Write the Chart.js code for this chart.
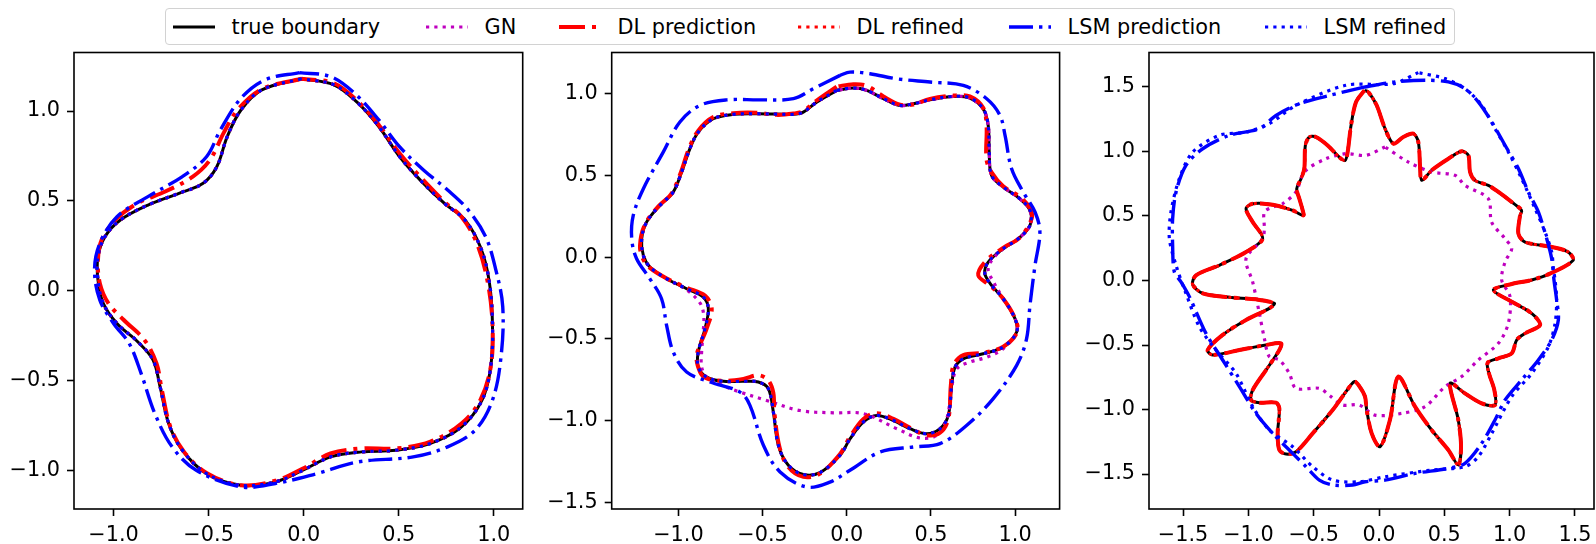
<!DOCTYPE html>
<html>
<head>
<meta charset="utf-8">
<script src="https://cdn.jsdelivr.net/npm/chart.js@4.4.1/dist/chart.umd.min.js"></script>
<style>
  html, body { margin: 0; padding: 0; background: #fff; overflow: hidden; }
  body { width: 1596px; height: 544px; position: relative; font-family: "DejaVu Sans", sans-serif; }
  canvas { position: absolute; top: 46px; }
  #legend { position: absolute; left: 165px; top: 8px; width: 1290px; height: 37px; box-sizing: border-box;
            border: 1.5px solid #d2d2d2; border-radius: 4px; background: #fff; }
  .item { position: absolute; top: 8px; height: 37px; display: flex; align-items: center;
          font-size: 20.8px; color: #000; white-space: nowrap; }
  .item svg { margin-right: 16.6px; }
</style>
</head>
<body>
<div id="legend"></div>
<canvas id="c1" width="530" height="498" style="left:0px"></canvas>
<canvas id="c2" width="537" height="498" style="left:530px"></canvas>
<canvas id="c3" width="529" height="498" style="left:1067px"></canvas>
<script>
// tick values
const ticks1 = [-1.0, -0.5, 0.0, 0.5, 1.0];
const ticks2y = [-1.5, -1.0, -0.5, 0.0, 0.5, 1.0];
const ticks3 = [-1.5, -1.0, -0.5, 0.0, 0.5, 1.0, 1.5];

const legendLabels = ["true boundary", "GN", "DL prediction", "DL refined", "LSM prediction", "LSM refined"];

// ---- panel 1 ----
const p1True = [[-0.013,1.18],[-0.22,1.118],[-0.33,1.006],[-0.402,0.858],[-0.457,0.69],[-0.529,0.598],[-0.656,0.542],[-0.819,0.477],[-0.964,0.394],[-1.045,0.301],[-1.082,0.19],[-1.082,0.06],[-1.054,-0.07],[-0.982,-0.182],[-0.873,-0.284],[-0.792,-0.386],[-0.755,-0.535],[-0.71,-0.739],[-0.638,-0.888],[-0.511,-1.018],[-0.33,-1.083],[-0.149,-1.064],[-0.004,-0.999],[0.141,-0.925],[0.304,-0.897],[0.486,-0.888],[0.667,-0.85],[0.83,-0.758],[0.938,-0.609],[0.984,-0.423],[0.993,-0.182],[0.975,0.059],[0.929,0.245],[0.848,0.394],[0.739,0.487],[0.612,0.617],[0.504,0.747],[0.395,0.914],[0.286,1.044],[0.159,1.146]];
const p1DlPred = [[-0.013,1.18],[-0.22,1.122],[-0.348,1.006],[-0.42,0.88],[-0.493,0.728],[-0.583,0.635],[-0.728,0.552],[-0.873,0.487],[-0.991,0.394],[-1.063,0.282],[-1.082,0.171],[-1.072,0.041],[-1.027,-0.07],[-0.946,-0.163],[-0.837,-0.275],[-0.774,-0.405],[-0.746,-0.553],[-0.701,-0.758],[-0.629,-0.897],[-0.511,-1.014],[-0.33,-1.083],[-0.149,-1.058],[-0.004,-0.99],[0.141,-0.906],[0.304,-0.878],[0.486,-0.878],[0.667,-0.84],[0.83,-0.739],[0.929,-0.609],[0.984,-0.423],[0.993,-0.182],[0.966,0.059],[0.911,0.264],[0.83,0.412],[0.739,0.496],[0.612,0.635],[0.504,0.765],[0.395,0.923],[0.286,1.053],[0.159,1.155]];
const p1LsmPred = [[-0.022,1.214],[-0.203,1.174],[-0.33,1.071],[-0.438,0.895],[-0.511,0.746],[-0.638,0.635],[-0.819,0.524],[-0.982,0.412],[-1.072,0.264],[-1.1,0.115],[-1.072,-0.052],[-1.0,-0.182],[-0.918,-0.293],[-0.855,-0.46],[-0.783,-0.683],[-0.692,-0.869],[-0.565,-0.999],[-0.33,-1.092],[-0.149,-1.073],[0.069,-1.018],[0.286,-0.953],[0.576,-0.925],[0.757,-0.869],[0.902,-0.776],[0.993,-0.609],[1.038,-0.368],[1.047,-0.089],[1.011,0.115],[0.957,0.301],[0.866,0.449],[0.757,0.561],[0.63,0.672],[0.504,0.802],[0.395,0.951],[0.268,1.099],[0.141,1.192]];

// ---- panel 2 ----
const p2True = [[-0.06,1.022],[-0.179,0.95],[-0.258,0.889],[-0.317,0.875],[-0.416,0.877],[-0.535,0.879],[-0.674,0.875],[-0.793,0.848],[-0.882,0.766],[-0.932,0.664],[-0.981,0.521],[-1.031,0.399],[-1.11,0.317],[-1.189,0.215],[-1.218,0.113],[-1.208,0.011],[-1.169,-0.06],[-1.069,-0.132],[-0.951,-0.193],[-0.852,-0.244],[-0.822,-0.315],[-0.842,-0.438],[-0.882,-0.581],[-0.882,-0.672],[-0.832,-0.734],[-0.733,-0.76],[-0.614,-0.76],[-0.525,-0.764],[-0.466,-0.805],[-0.436,-0.948],[-0.406,-1.152],[-0.347,-1.274],[-0.258,-1.331],[-0.159,-1.319],[-0.04,-1.213],[0.019,-1.113],[0.099,-1.009],[0.178,-0.969],[0.277,-1.0],[0.376,-1.05],[0.475,-1.081],[0.554,-1.05],[0.603,-0.969],[0.623,-0.785],[0.643,-0.673],[0.692,-0.622],[0.81,-0.591],[0.929,-0.55],[1.009,-0.458],[0.999,-0.376],[0.929,-0.254],[0.86,-0.172],[0.82,-0.1],[0.84,-0.03],[0.929,0.052],[1.018,0.113],[1.088,0.195],[1.088,0.287],[1.028,0.358],[0.929,0.43],[0.86,0.501],[0.846,0.644],[0.84,0.807],[0.81,0.909],[0.731,0.975],[0.632,0.985],[0.494,0.964],[0.395,0.94],[0.316,0.93],[0.218,0.971],[0.119,1.022],[0.039,1.036]];
const p2Gn = [[-0.06,1.022],[-0.179,0.95],[-0.258,0.889],[-0.317,0.875],[-0.416,0.877],[-0.535,0.879],[-0.674,0.875],[-0.793,0.848],[-0.882,0.766],[-0.932,0.664],[-0.981,0.521],[-1.031,0.399],[-1.11,0.317],[-1.189,0.215],[-1.218,0.113],[-1.208,0.011],[-1.169,-0.06],[-1.069,-0.132],[-0.951,-0.2],[-0.872,-0.28],[-0.85,-0.35],[-0.852,-0.45],[-0.862,-0.581],[-0.862,-0.672],[-0.832,-0.734],[-0.75,-0.78],[-0.634,-0.826],[-0.476,-0.877],[-0.278,-0.939],[-0.08,-0.953],[0.099,-0.958],[0.297,-1.05],[0.435,-1.107],[0.534,-1.091],[0.594,-0.989],[0.623,-0.8],[0.653,-0.684],[0.732,-0.642],[0.831,-0.612],[0.929,-0.56],[1.009,-0.458],[0.999,-0.376],[0.929,-0.254],[0.871,-0.15],[0.84,-0.08],[0.86,-0.02],[0.929,0.052],[1.018,0.113],[1.088,0.195],[1.088,0.287],[1.028,0.358],[0.929,0.43],[0.86,0.501],[0.846,0.644],[0.84,0.807],[0.81,0.909],[0.731,0.975],[0.632,0.985],[0.494,0.964],[0.395,0.94],[0.316,0.93],[0.218,0.971],[0.119,1.022],[0.039,1.036]];
const p2DlPred = [[-0.06,1.045],[-0.179,0.96],[-0.258,0.895],[-0.317,0.88],[-0.416,0.872],[-0.535,0.885],[-0.674,0.882],[-0.793,0.858],[-0.882,0.775],[-0.938,0.664],[-0.985,0.521],[-1.041,0.39],[-1.12,0.31],[-1.199,0.2],[-1.228,0.072],[-1.21,-0.01],[-1.169,-0.065],[-1.069,-0.13],[-0.951,-0.186],[-0.842,-0.235],[-0.802,-0.315],[-0.832,-0.438],[-0.891,-0.6],[-0.871,-0.704],[-0.832,-0.742],[-0.733,-0.757],[-0.614,-0.745],[-0.525,-0.723],[-0.466,-0.754],[-0.436,-0.83],[-0.43,-0.948],[-0.4,-1.16],[-0.347,-1.285],[-0.258,-1.345],[-0.159,-1.325],[-0.04,-1.205],[0.019,-1.1],[0.099,-0.99],[0.178,-0.955],[0.277,-0.99],[0.376,-1.045],[0.475,-1.09],[0.554,-1.075],[0.603,-0.99],[0.618,-0.785],[0.635,-0.66],[0.692,-0.6],[0.81,-0.585],[0.929,-0.548],[1.012,-0.458],[1.0,-0.376],[0.929,-0.254],[0.85,-0.172],[0.781,-0.111],[0.82,-0.03],[0.929,0.058],[1.028,0.12],[1.098,0.236],[1.088,0.3],[1.028,0.37],[0.929,0.435],[0.86,0.52],[0.83,0.6],[0.83,0.807],[0.81,0.915],[0.731,0.985],[0.632,0.99],[0.494,0.97],[0.395,0.935],[0.316,0.935],[0.218,0.985],[0.119,1.05],[0.039,1.06]];
const p2LsmPred = [[-0.04,1.114],[-0.198,1.032],[-0.317,0.971],[-0.515,0.964],[-0.713,0.964],[-0.872,0.93],[-0.991,0.828],[-1.09,0.644],[-1.208,0.42],[-1.268,0.256],[-1.277,0.113],[-1.248,-0.009],[-1.169,-0.132],[-1.1,-0.254],[-1.07,-0.417],[-1.03,-0.581],[-0.951,-0.703],[-0.812,-0.764],[-0.634,-0.826],[-0.575,-0.907],[-0.495,-1.152],[-0.396,-1.315],[-0.238,-1.407],[-0.1,-1.377],[0.019,-1.305],[0.198,-1.193],[0.396,-1.162],[0.554,-1.142],[0.713,-1.029],[0.87,-0.866],[1.009,-0.662],[1.068,-0.499],[1.088,-0.295],[1.118,-0.05],[1.147,0.154],[1.118,0.277],[1.048,0.399],[0.979,0.542],[0.94,0.746],[0.91,0.869],[0.831,0.971],[0.692,1.052],[0.494,1.073],[0.297,1.093],[0.138,1.124],[0.019,1.134]];

// ---- panel 3 ----
const p3True = [[-0.112,1.474],[-0.176,1.383],[-0.214,1.203],[-0.24,0.996],[-0.26,0.93],[-0.304,0.956],[-0.393,1.047],[-0.482,1.112],[-0.533,1.112],[-0.564,1.047],[-0.572,0.866],[-0.597,0.789],[-0.63,0.711],[-0.61,0.634],[-0.584,0.543],[-0.579,0.504],[-0.661,0.543],[-0.814,0.587],[-0.967,0.595],[-1.018,0.556],[-0.967,0.453],[-0.891,0.324],[-1.018,0.221],[-1.223,0.118],[-1.401,0.04],[-1.427,-0.03],[-1.35,-0.099],[-1.146,-0.13],[-0.942,-0.146],[-0.801,-0.177],[-0.84,-0.216],[-1.018,-0.306],[-1.197,-0.422],[-1.312,-0.539],[-1.274,-0.577],[-1.069,-0.539],[-0.865,-0.5],[-0.75,-0.487],[-0.763,-0.539],[-0.865,-0.694],[-0.967,-0.849],[-0.98,-0.926],[-0.916,-0.947],[-0.789,-0.947],[-0.763,-0.991],[-0.776,-1.185],[-0.763,-1.314],[-0.712,-1.345],[-0.635,-1.327],[-0.508,-1.185],[-0.355,-1.004],[-0.253,-0.862],[-0.189,-0.784],[-0.15,-0.82],[-0.107,-0.9],[-0.095,-1.0],[-0.056,-1.185],[0.008,-1.288],[0.084,-1.08],[0.148,-0.745],[0.276,-0.978],[0.403,-1.159],[0.531,-1.314],[0.607,-1.43],[0.628,-1.288],[0.607,-1.081],[0.544,-0.797],[0.658,-0.875],[0.786,-0.952],[0.888,-0.965],[0.883,-0.849],[0.842,-0.72],[0.832,-0.637],[0.914,-0.603],[1.016,-0.565],[1.054,-0.461],[1.118,-0.41],[1.233,-0.345],[1.169,-0.255],[1.016,-0.164],[0.875,-0.074],[1.016,-0.027],[1.169,0.004],[1.309,0.053],[1.486,0.156],[1.448,0.221],[1.322,0.26],[1.118,0.298],[1.067,0.363],[1.08,0.504],[1.092,0.543],[1.016,0.608],[0.914,0.686],[0.837,0.737],[0.735,0.776],[0.697,0.841],[0.684,0.97],[0.633,1.001],[0.531,0.944],[0.403,0.854],[0.327,0.776],[0.314,0.892],[0.301,1.073],[0.263,1.138],[0.186,1.112],[0.11,1.061],[0.046,1.177],[-0.018,1.358],[-0.082,1.461]];
const p3Gn = [[0.046,1.035],[-0.1,0.97],[-0.253,0.983],[-0.406,0.944],[-0.572,0.841],[-0.636,0.686],[-0.738,0.595],[-0.814,0.569],[-0.878,0.53],[-0.878,0.399],[-0.891,0.324],[-1.018,0.169],[-0.967,-0.012],[-0.916,-0.254],[-0.878,-0.448],[-0.84,-0.59],[-0.763,-0.616],[-0.687,-0.72],[-0.636,-0.836],[-0.457,-0.836],[-0.368,-0.9],[-0.278,-0.965],[-0.151,-0.965],[-0.031,-1.043],[0.174,-1.03],[0.352,-0.978],[0.505,-0.823],[0.633,-0.745],[0.761,-0.616],[0.914,-0.487],[0.99,-0.332],[1.003,-0.125],[0.939,0.004],[0.965,0.143],[1.016,0.247],[0.965,0.324],[0.862,0.453],[0.837,0.634],[0.658,0.737],[0.582,0.815],[0.403,0.841],[0.225,0.918]];
const p3LsmPred = [[-0.107,1.5],[-0.38,1.434],[-0.61,1.37],[-0.789,1.279],[-0.916,1.176],[-1.146,1.125],[-1.35,1.021],[-1.478,0.892],[-1.554,0.686],[-1.58,0.479],[-1.58,0.273],[-1.567,0.066],[-1.516,-0.01],[-1.452,-0.125],[-1.325,-0.41],[-1.197,-0.616],[-1.069,-0.823],[-0.942,-1.03],[-0.814,-1.185],[-0.661,-1.34],[-0.559,-1.443],[-0.457,-1.547],[-0.355,-1.585],[-0.202,-1.585],[-0.107,-1.56],[0.046,-1.547],[0.276,-1.495],[0.531,-1.456],[0.658,-1.417],[0.786,-1.262],[0.888,-1.081],[0.965,-0.926],[1.092,-0.771],[1.22,-0.616],[1.322,-0.461],[1.373,-0.306],[1.36,-0.151],[1.34,0.0],[1.322,0.169],[1.284,0.324],[1.22,0.531],[1.143,0.686],[1.067,0.867],[0.965,1.048],[0.863,1.229],[0.76,1.384],[0.658,1.487],[0.531,1.539],[0.352,1.552],[0.123,1.539]];
const p3LsmRef = [[0.301,1.611],[0.107,1.525],[-0.253,1.513],[-0.636,1.357],[-0.84,1.215],[-1.018,1.15],[-1.223,1.125],[-1.427,0.995],[-1.529,0.789],[-1.593,0.531],[-1.605,0.324],[-1.554,0.118],[-1.478,-0.1],[-1.376,-0.358],[-1.248,-0.539],[-1.095,-0.72],[-0.967,-0.978],[-0.84,-1.159],[-0.661,-1.288],[-0.508,-1.443],[-0.355,-1.547],[-0.151,-1.56],[0.046,-1.521],[0.403,-1.469],[0.658,-1.443],[0.76,-1.366],[0.863,-1.185],[1.016,-0.9],[1.169,-0.72],[1.297,-0.513],[1.348,-0.332],[1.36,-0.151],[1.348,0.004],[1.335,0.092],[1.322,0.221],[1.271,0.376],[1.195,0.557],[1.092,0.789],[0.99,0.996],[0.888,1.177],[0.786,1.358],[0.658,1.487],[0.505,1.565]];

const styles = [
  { color: "#000000", width: 3, dash: [] },
  { color: "#bf00bf", width: 3.2, dash: [3.2, 5.1] },
  { color: "#ff0000", width: 4, dash: [26, 7, 4, 7] },
  { color: "#ff0000", width: 3.2, dash: [3.2, 5.1] },
  { color: "#0000ff", width: 3.4, dash: [24, 6, 3.4, 6] },
  { color: "#0000ff", width: 3.2, dash: [3.2, 5.1] },
];

const panels = [
  { id: "c1", yAxisW: 74, padRight: 7.3, xr: [-1.208, 1.152], yr: [-1.215, 1.326], xt: ticks1, yt: ticks1, tension: 0.35,
    series: [p1True, p1True, p1DlPred, p1True, p1LsmPred, p1True] },
  { id: "c2", yAxisW: 81.7, padRight: 7.4, xr: [-1.396, 1.264], yr: [-1.542, 1.254], xt: ticks1, yt: ticks2y, tension: 0.35,
    series: [p2True, p2Gn, p2DlPred, p2True, p2LsmPred, p2True] },
  { id: "c3", yAxisW: 82, padRight: 2, xr: [-1.761, 1.646], yr: [-1.771, 1.767], xt: ticks3, yt: ticks3, tension: 0.3,
    series: [p3True, p3Gn, p3True, p3True, p3LsmPred, p3LsmRef] },
];

const fmt = (v) => (v < 0 ? "\u2212" : "") + Math.abs(v).toFixed(1);

const frame = {
  id: "frame",
  afterDraw(chart) {
    const { ctx, chartArea: a } = chart;
    ctx.save();
    ctx.strokeStyle = "#000";
    ctx.lineWidth = 1.6;
    ctx.strokeRect(a.left, a.top, a.right - a.left, a.bottom - a.top);
    ctx.restore();
  },
};

function axis(range, tickVals, isY, w) {
  return {
    type: "linear",
    min: range[0],
    max: range[1],
    afterBuildTicks: (s) => { s.ticks = tickVals.map((v) => ({ value: v })); },
    afterFit: (s) => {
      if (isY) s.width = w; else s.height = 35;
      s.paddingTop = 0; s.paddingBottom = 0; s.paddingLeft = 0; s.paddingRight = 0;
    },
    grid: { display: true, drawOnChartArea: false, drawTicks: true, tickLength: 7, tickWidth: 1.6, tickColor: "#000" },
    border: { display: false },
    ticks: {
      autoSkip: false, maxRotation: 0, padding: 7, color: "#000",
      font: { family: "DejaVu Sans", size: 20.8 },
      callback: (v) => fmt(v),
    },
  };
}

for (const p of panels) {
  const datasets = p.series.map((pts, i) => ({
    label: legendLabels[i],
    data: pts.concat([pts[0]]).map((q) => ({ x: q[0], y: q[1] })),
    showLine: true,
    fill: false,
    pointRadius: 0,
    borderColor: styles[i].color,
    borderWidth: styles[i].width,
    borderDash: styles[i].dash,
    borderCapStyle: "butt",
    tension: p.tension,
    order: 10 - i,
  }));
  new Chart(document.getElementById(p.id), {
    type: "scatter",
    data: { datasets },
    options: {
      responsive: false,
      animation: false,
      devicePixelRatio: 1,
      layout: { padding: { top: 6.5, right: p.padRight, left: 0, bottom: 0 } },
      plugins: { legend: { display: false }, tooltip: { enabled: false } },
      scales: { x: axis(p.xr, p.xt, false), y: axis(p.yr, p.yt, true, p.yAxisW) },
    },
    plugins: [frame],
  });
}

// shared legend on top
const legendX = [173, 426, 559, 798, 1009, 1265];
const legend = document.getElementById("legend");
legendLabels.forEach((label, i) => {
  const s = styles[i];
  const item = document.createElement("div");
  item.className = "item";
  item.style.left = legendX[i] + "px";
  item.innerHTML =
    '<svg width="42" height="10"><line x1="0" y1="5" x2="42" y2="5" stroke="' + s.color +
    '" stroke-width="' + s.width + '" stroke-dasharray="' + (s.dash.length ? s.dash.join(" ") : "none") +
    '"/></svg><span>' + label + "</span>";
  document.body.appendChild(item);
});
</script>
</body>
</html>
